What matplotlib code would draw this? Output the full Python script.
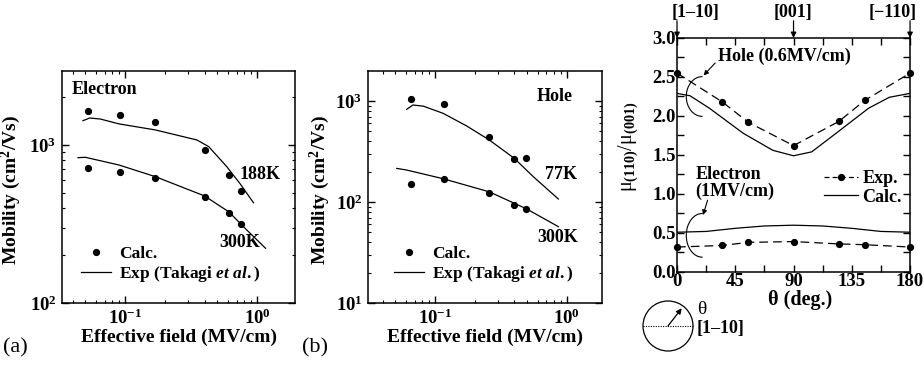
import matplotlib
matplotlib.use("Agg")
import matplotlib.pyplot as plt
from matplotlib.patches import Arc, Circle
from matplotlib.lines import Line2D

plt.rcParams["font.family"] = ["Liberation Serif", "DejaVu Serif"]
plt.rcParams["font.weight"] = "bold"
plt.rcParams["axes.labelweight"] = "bold"
plt.rcParams["mathtext.fontset"] = "custom"
plt.rcParams["mathtext.rm"] = "Liberation Serif:bold"
plt.rcParams["mathtext.bf"] = "Liberation Serif:bold"
plt.rcParams["mathtext.it"] = "Liberation Serif:italic:bold"
plt.rcParams["axes.linewidth"] = 1.1

# (a) electron mobility
e_field_calc = [0.052, 0.092, 0.17, 0.40, 0.61, 0.76]
e188_calc = [1640, 1555, 1390, 935, 650, 515]
e300_calc = [720, 675, 618, 471, 369, 316]
e188_exp_x = [0.048, 0.054, 0.065, 0.09, 0.17, 0.35, 0.43, 0.59, 0.74, 0.94]
e188_exp = [1425, 1482, 1460, 1360, 1245, 1076, 977, 729, 572, 431]
e300_exp_x = [0.044, 0.05, 0.09, 0.17, 0.40, 0.61, 0.835, 1.16]
e300_exp = [831, 836, 747, 630, 476, 378, 290, 222]

# (b) hole mobility
h_field_calc = [0.066, 0.116, 0.258, 0.40, 0.49]
h77_calc = [1047, 934, 440, 264, 275]
h300_calc = [151, 169, 123, 93, 85]
h77_exp_x = [0.061, 0.068, 0.0815, 0.115, 0.174, 0.258, 0.40, 0.557, 0.863]
h77_exp = [827, 912, 888, 755, 565, 411, 270, 178, 107]
h300_exp_x = [0.0512, 0.061, 0.115, 0.258, 0.40, 0.49, 0.863]
h300_exp = [215, 207, 170, 126, 97, 86, 57]

# (c) mobility ratio vs angle
theta_exp = [0, 35, 55, 90, 125, 145, 180]
hole_ratio_exp = [2.55, 2.18, 1.92, 1.62, 1.93, 2.20, 2.55]
elec_ratio_exp = [0.32, 0.34, 0.38, 0.39, 0.36, 0.35, 0.32]
theta_hole_calc = [0, 10, 25, 51, 74, 90, 104, 123, 148, 164, 180]
hole_ratio_calc = [2.29, 2.26, 2.10, 1.78, 1.56, 1.49, 1.54, 1.78, 2.10, 2.24, 2.29]
theta_elec_calc = [0, 22.5, 45, 67.5, 90, 112.5, 135, 157.5, 180]
elec_ratio_calc = [0.51, 0.52, 0.56, 0.59, 0.60, 0.59, 0.56, 0.52, 0.51]
directions = ["[1\u201310]", "[001]", "[\u2212110]"]
direction_theta = [0, 90, 180]

fig = plt.figure(figsize=(9.24, 3.65), dpi=100)

tick_kw = dict(direction="in", which="both", top=True, right=True, labelsize=13.5)


def mobility_panel(rect, xlim, ylim):
    ax = fig.add_axes(rect)
    ax.set_xscale("log")
    ax.set_yscale("log")
    ax.set_xlim(*xlim)
    ax.set_ylim(*ylim)
    ax.tick_params(**tick_kw)
    ax.tick_params(which="major", length=5, width=1, pad=4)
    ax.tick_params(which="minor", length=2.5, width=0.8)
    ax.set_xticks([0.1, 1])
    ax.set_xticklabels([r"$10^{-1}$", r"$10^{0}$"])
    ax.set_xlabel("Effective field (MV/cm)", fontsize=14)
    ax.set_ylabel("Mobility (cm$^2$/Vs)", fontsize=14)
    ax.xaxis.set_label_coords(0.5, -0.11)
    return ax


# panel (a)
ax = mobility_panel([0.0671, 0.1699, 0.2522, 0.6356], (0.0333, 1.94), (100, 2940))
ax.plot(e_field_calc, e188_calc, "o", color="k", ms=4.2, label="Calc.")
ax.plot(e_field_calc, e300_calc, "o", color="k", ms=4.2)
ax.plot(e188_exp_x, e188_exp, "-", color="k", lw=0.9, label="Exp (Takagi $\\mathit{et\\ al.}$)")
ax.plot(e300_exp_x, e300_exp, "-", color="k", lw=0.9)
ax.set_yticks([100, 1000])
ax.set_yticklabels([r"$10^{2}$", r"$10^{3}$"])
ax.yaxis.set_label_coords(-0.167, 0.487)
ax.text(0.043, 0.92, "Electron", transform=ax.transAxes, fontsize=13, va="center")
ax.text(0.743, 655, "188K", fontsize=13, va="center")
ax.text(0.515, 240, "300K", fontsize=13, va="center")
ax.legend(loc="lower left", bbox_to_anchor=(0.03, 0.03), frameon=False, fontsize=12.5,
          handlelength=1.7, handletextpad=0.5, labelspacing=0.1, borderpad=0.2)

# panel (b)
ax = mobility_panel([0.3983, 0.1699, 0.2532, 0.6356], (0.031, 1.85), (10, 1980))
ax.plot(h_field_calc, h77_calc, "o", color="k", ms=4.2, label="Calc.")
ax.plot(h_field_calc, h300_calc, "o", color="k", ms=4.2)
ax.plot(h77_exp_x, h77_exp, "-", color="k", lw=0.9, label="Exp (Takagi $\\mathit{et\\ al.}$)")
ax.plot(h300_exp_x, h300_exp, "-", color="k", lw=0.9)
ax.set_yticks([10, 100, 1000])
ax.set_yticklabels([r"$10^{1}$", r"$10^{2}$", r"$10^{3}$"])
ax.yaxis.set_label_coords(-0.154, 0.487)
ax.text(0.72, 0.888, "Hole", transform=ax.transAxes, fontsize=13, va="center")
ax.text(0.684, 185, "77K", fontsize=13, va="center")
ax.text(0.594, 44.8, "300K", fontsize=13, va="center")
ax.legend(loc="lower left", bbox_to_anchor=(0.06, 0.03), frameon=False, fontsize=12.5,
          handlelength=1.7, handletextpad=0.5, labelspacing=0.1, borderpad=0.2)

# panel (c)
ax = fig.add_axes([0.7327, 0.2548, 0.2522, 0.6411])
dash = (0, (7, 4))
ax.plot(theta_exp, hole_ratio_exp, color="k", lw=0.9, ls=dash, marker="o", ms=4.2, clip_on=False)
ax.plot(theta_exp, elec_ratio_exp, color="k", lw=0.9, ls=dash, marker="o", ms=4.2, clip_on=False)
ax.plot(theta_hole_calc, hole_ratio_calc, color="k", lw=0.9)
ax.plot(theta_elec_calc, elec_ratio_calc, color="k", lw=0.9)
ax.set_xlim(0, 180)
ax.set_ylim(0, 3)
ax.set_xticks([0, 45, 90, 135, 180])
ax.set_xticks([22.5, 67.5, 112.5, 157.5], minor=True)
ax.set_yticks([0, 0.5, 1.0, 1.5, 2.0, 2.5, 3.0])
ax.set_yticks([0.25, 0.75, 1.25, 1.75, 2.25, 2.75], minor=True)
ax.yaxis.set_major_formatter(matplotlib.ticker.FormatStrFormatter("%.1f"))
ax.tick_params(**tick_kw)
ax.tick_params(which="major", length=5, width=1, pad=1)
ax.tick_params(which="minor", length=5, width=1)
ax.set_xlabel("\u03b8 (deg.)", fontsize=14.5)
ax.xaxis.set_label_coords(0.53, -0.075)
ax.set_ylabel("\u03bc$_{(110)}$/\u03bc$_{(001)}$", fontsize=14.5, fontweight="normal")
ax.yaxis.set_label_coords(-0.16, 0.536)

label_x = [672, 793, 917]
label_ha = ["left", "center", "right"]
for lab, th, px, ha in zip(directions, direction_theta, label_x, label_ha):
    ax.annotate("", xy=(th, 3.0), xytext=(th, 3.22), annotation_clip=False,
                arrowprops=dict(arrowstyle="-|>", color="k", lw=0.9, mutation_scale=8,
                                shrinkA=0, shrinkB=0))
    fig.text(px / 924, 1 - 13 / 365, lab, ha=ha, va="center", fontsize=13)

ax.text(31.8, 2.76, "Hole (0.6MV/cm)", fontsize=13, va="center")
ax.annotate("", xy=(20.5, 2.52), xytext=(29.5, 2.68),
            arrowprops=dict(arrowstyle="-|>", color="k", lw=0.8, mutation_scale=7, shrinkA=0, shrinkB=0))
ax.add_patch(Arc((19.5, 2.25), 24.7, 0.51, theta1=55, theta2=305, color="k", lw=0.8))

ax.text(14.1, 1.14, "Electron\n(1MV/cm)", fontsize=13, va="center", linespacing=1.0)
ax.annotate("", xy=(20.1, 0.73), xytext=(23.6, 0.92),
            arrowprops=dict(arrowstyle="-|>", color="k", lw=0.8, mutation_scale=7, shrinkA=0, shrinkB=0))
ax.add_patch(Arc((19.5, 0.47), 24.7, 0.56, theta1=40, theta2=320, color="k", lw=0.8))

handles = [Line2D([], [], color="k", lw=0.9, ls=(0, (4, 2.5)), marker="o", ms=4.2),
           Line2D([], [], color="k", lw=0.9)]
ax.legend(handles, ["Exp.", "Calc."], loc="center left", bbox_to_anchor=(0.56, 0.36), frameon=False,
          fontsize=13, handlelength=1.9, handletextpad=0.25, labelspacing=0.1, numpoints=1)

# orientation sketch
sk = fig.add_axes([640 / 924, 11 / 365, 56 / 924, 56 / 365])
sk.set_xlim(-28, 28)
sk.set_ylim(-28, 28)
sk.set_aspect("equal")
sk.axis("off")
sk.add_patch(Circle((0, 0), 25, fill=False, color="k", lw=0.9))
sk.plot([-25, 25], [0, 0], color="k", lw=0.8, ls=(0, (1, 1.2)))
sk.annotate("", xy=(13.7, 17.7), xytext=(0, 0),
            arrowprops=dict(arrowstyle="-|>", color="k", lw=0.9, mutation_scale=8, shrinkA=0, shrinkB=0))
fig.text(697 / 924, 1 - 310 / 365, "\u03b8", fontsize=14, fontweight="normal", va="center")
fig.text(697 / 924, 1 - 329 / 365, "[1\u201310]", fontsize=13, va="center")

fig.text(0.003, 1 - 348 / 365, "(a)", fontsize=16, fontweight="normal", va="center")
fig.text(302 / 924, 1 - 348 / 365, "(b)", fontsize=16, fontweight="normal", va="center")

fig.savefig("out.png", dpi=100)
